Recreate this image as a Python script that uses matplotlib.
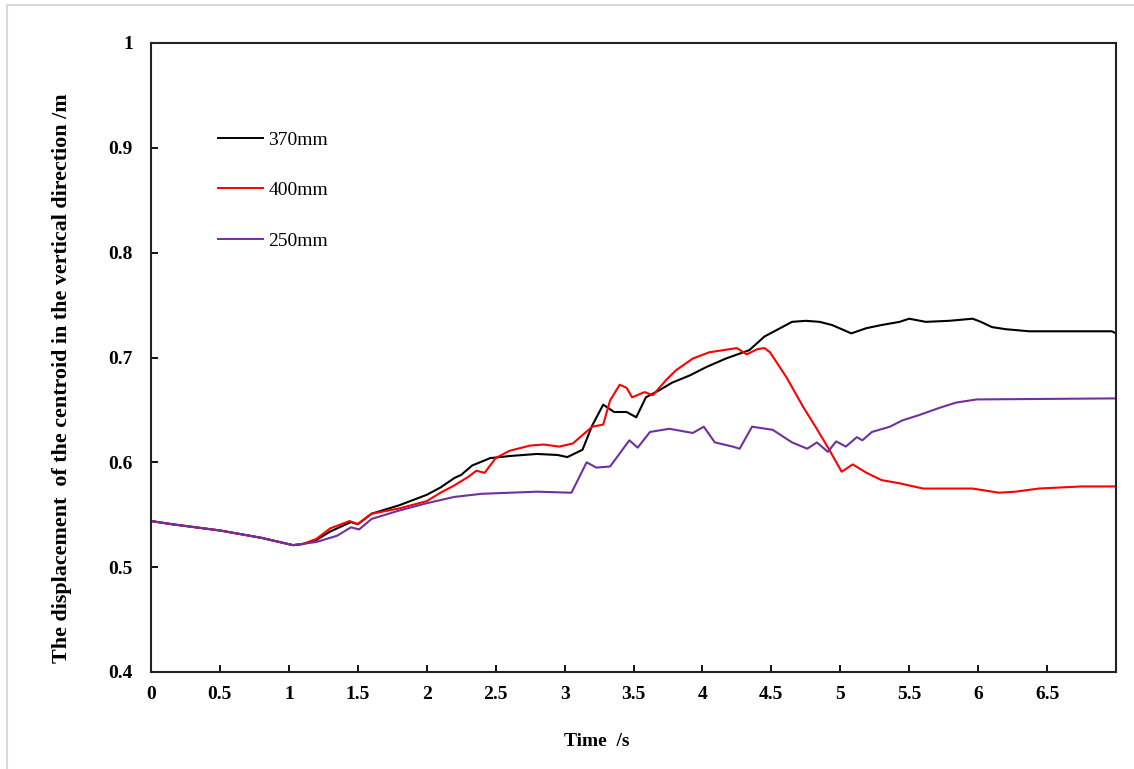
import matplotlib
matplotlib.use("Agg")
import matplotlib.pyplot as plt
from matplotlib.lines import Line2D

# ---- data ----
t_370 = [0, 0.15, 0.5, 0.8, 1.03, 1.1, 1.2, 1.3, 1.45, 1.5, 1.6, 1.8, 2.0, 2.1, 2.2, 2.25,
         2.33, 2.46, 2.6, 2.8, 2.95, 3.02, 3.13, 3.2, 3.28, 3.36, 3.45, 3.52, 3.59, 3.69,
         3.78, 3.91, 4.03, 4.17, 4.34, 4.45, 4.55, 4.65, 4.75, 4.85, 4.94, 5.08, 5.19, 5.3,
         5.43, 5.5, 5.62, 5.79, 5.96, 6.02, 6.1, 6.2, 6.37, 6.97, 7.0]
v_370 = [0.544, 0.541, 0.535, 0.528, 0.521, 0.522, 0.526, 0.534, 0.543, 0.541, 0.551, 0.559,
         0.569, 0.576, 0.585, 0.588, 0.597, 0.604, 0.606, 0.608, 0.607, 0.605, 0.612, 0.635,
         0.655, 0.648, 0.648, 0.643, 0.662, 0.669, 0.676, 0.683, 0.691, 0.699, 0.707, 0.720,
         0.727, 0.734, 0.735, 0.734, 0.731, 0.723, 0.728, 0.731, 0.734, 0.737, 0.734, 0.735,
         0.737, 0.734, 0.729, 0.727, 0.725, 0.725, 0.723]

t_400 = [0, 0.15, 0.5, 0.8, 1.03, 1.1, 1.2, 1.3, 1.44, 1.5, 1.6, 1.8, 2.0, 2.1, 2.2, 2.3,
         2.36, 2.42, 2.5, 2.6, 2.75, 2.85, 2.96, 3.06, 3.2, 3.28, 3.33, 3.40, 3.45, 3.49,
         3.58, 3.64, 3.74, 3.81, 3.93, 4.05, 4.15, 4.25, 4.32, 4.4, 4.45, 4.49, 4.61, 4.73,
         4.82, 4.92, 5.01, 5.09, 5.19, 5.30, 5.43, 5.6, 5.96, 6.15, 6.27, 6.44, 6.75, 7.0]
v_400 = [0.544, 0.541, 0.535, 0.528, 0.521, 0.522, 0.527, 0.537, 0.544, 0.541, 0.551, 0.556,
         0.563, 0.571, 0.578, 0.586, 0.592, 0.590, 0.604, 0.611, 0.616, 0.617, 0.615, 0.618,
         0.634, 0.636, 0.659, 0.674, 0.671, 0.662, 0.667, 0.664, 0.679, 0.688, 0.699, 0.705,
         0.707, 0.709, 0.703, 0.708, 0.709, 0.705, 0.681, 0.653, 0.634, 0.612, 0.591, 0.598,
         0.590, 0.583, 0.580, 0.575, 0.575, 0.571, 0.572, 0.575, 0.577, 0.577]

t_250 = [0, 0.15, 0.5, 0.8, 1.03, 1.2, 1.35, 1.45, 1.51, 1.6, 1.8, 2.0, 2.2, 2.4, 2.8, 3.05,
         3.16, 3.23, 3.33, 3.47, 3.53, 3.62, 3.76, 3.93, 4.01, 4.09, 4.22, 4.27, 4.36, 4.51,
         4.65, 4.76, 4.83, 4.91, 4.97, 5.04, 5.12, 5.16, 5.23, 5.36, 5.45, 5.57, 5.72, 5.84,
         5.99, 7.0]
v_250 = [0.544, 0.541, 0.535, 0.528, 0.521, 0.524, 0.530, 0.538, 0.536, 0.546, 0.554, 0.561,
         0.567, 0.570, 0.572, 0.571, 0.600, 0.595, 0.596, 0.621, 0.614, 0.629, 0.632, 0.628,
         0.634, 0.619, 0.615, 0.613, 0.634, 0.631, 0.619, 0.613, 0.619, 0.610, 0.620, 0.615,
         0.624, 0.621, 0.629, 0.634, 0.640, 0.645, 0.652, 0.657, 0.660, 0.661]

series_labels = ["370mm", "400mm", "250mm"]
series_colors = ["#000000", "#FF0000", "#7030A0"]
x_ticks = [0, 0.5, 1, 1.5, 2, 2.5, 3, 3.5, 4, 4.5, 5, 5.5, 6, 6.5]
x_ticklabels = ["0", "0.5", "1", "1.5", "2", "2.5", "3", "3.5", "4", "4.5", "5", "5.5", "6", "6.5"]
y_ticks = [0.4, 0.5, 0.6, 0.7, 0.8, 0.9, 1.0]
y_ticklabels = ["0.4", "0.5", "0.6", "0.7", "0.8", "0.9", "1"]

# ---- figure ----
plt.rcParams['font.family'] = ['Liberation Serif', 'DejaVu Serif']
fig = plt.figure(figsize=(11.34, 7.69), dpi=100)
ax = fig.add_axes([151/1134, 1 - 672/769, (1116-151)/1134, (672-43)/769])

for t, v, lab, col in zip([t_370, t_400, t_250], [v_370, v_400, v_250], series_labels, series_colors):
    ax.plot(t, v, color=col, lw=1.5, label=lab)

ax.set_xlim(0, 7)
ax.set_ylim(0.4, 1.0)
ax.set_xticks(x_ticks)
ax.set_xticklabels(x_ticklabels)
ax.set_yticks(y_ticks)
ax.set_yticklabels(y_ticklabels)
for lbl in ax.get_xticklabels() + ax.get_yticklabels():
    lbl.set_fontweight('bold')
    lbl.set_fontsize(14)
ax.tick_params(axis='both', direction='in', length=5, width=1.3, top=False, right=False)
ax.tick_params(axis='y', pad=13)
ax.tick_params(axis='x', pad=10)
for s in ax.spines.values():
    s.set_linewidth(1.5)
    s.set_color('#222222')

ax.set_xlabel("Time  /s", fontsize=14, fontweight='bold')
ax.xaxis.set_label_coords((597-151)/965, -(733-672)/629)
ax.set_ylabel("The displacement  of the centroid in the vertical direction /m",
              fontsize=15.8, fontweight='bold')
ax.yaxis.set_label_coords(-(151-72)/965, (672-378)/629)

leg = ax.legend(loc='upper left', bbox_to_anchor=((218-151)/965, (672-131)/629),
                frameon=False, fontsize=14, handlelength=2.3, handletextpad=0.3,
                labelspacing=1.7, borderpad=0, borderaxespad=0)
for line in leg.get_lines():
    line.set_linewidth(1.4)

# light grey outer border
fig.add_artist(Line2D([7/1134, 7/1134], [0, 1 - 5/769], transform=fig.transFigure,
                      color='#D9D9D9', lw=1.5))
fig.add_artist(Line2D([7/1134, 1], [1 - 5/769, 1 - 5/769], transform=fig.transFigure,
                      color='#D9D9D9', lw=1.5))

fig.savefig("out.png", dpi=100)
